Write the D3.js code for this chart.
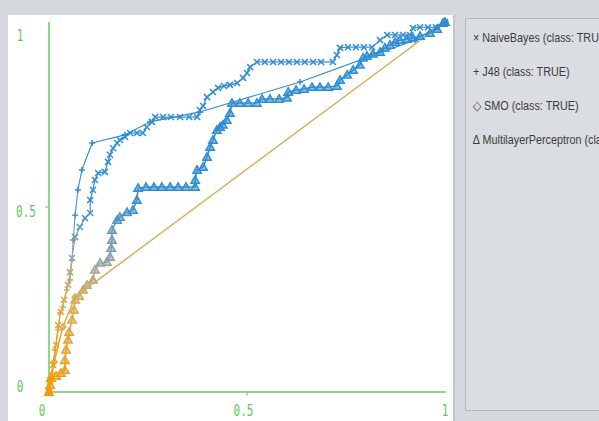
<!DOCTYPE html>
<html lang="en">
<head>
  <meta charset="UTF-8">
  <title>ROC</title>
  <script src="https://d3js.org/d3.v7.min.js"></script>
  <style>
    body { margin: 0; background: #d5d8dc; }
  </style>
</head>
<body>
  <div class="canvas"></div>
  <script>
    // [FPR, TPR] points
    const naiveBayes = [
      [0, 0], [0.003, 0.032], [0.010, 0.073], [0.018, 0.127], [0.023, 0.181], [0.030, 0.216],
      [0.038, 0.249], [0.048, 0.289], [0.053, 0.324], [0.058, 0.362], [0.066, 0.419], [0.078, 0.446],
      [0.091, 0.470], [0.104, 0.484], [0.104, 0.519], [0.111, 0.546], [0.116, 0.573], [0.124, 0.592],
      [0.141, 0.595], [0.149, 0.622], [0.154, 0.641], [0.162, 0.659], [0.172, 0.673], [0.179, 0.681],
      [0.192, 0.689], [0.205, 0.700], [0.222, 0.700], [0.237, 0.700], [0.247, 0.716], [0.260, 0.730],
      [0.268, 0.743], [0.288, 0.743], [0.308, 0.743], [0.331, 0.743], [0.354, 0.743], [0.374, 0.743],
      [0.381, 0.762], [0.389, 0.773], [0.399, 0.797], [0.414, 0.811], [0.427, 0.822], [0.442, 0.827],
      [0.457, 0.830], [0.475, 0.835], [0.490, 0.849], [0.500, 0.862], [0.508, 0.878], [0.525, 0.892],
      [0.545, 0.892], [0.566, 0.892], [0.586, 0.892], [0.606, 0.892], [0.626, 0.892], [0.646, 0.892],
      [0.667, 0.892], [0.687, 0.892], [0.717, 0.892], [0.727, 0.911], [0.735, 0.930], [0.755, 0.932],
      [0.775, 0.932], [0.795, 0.932], [0.816, 0.932], [0.836, 0.951], [0.854, 0.965], [0.874, 0.965],
      [0.894, 0.965], [0.912, 0.965], [0.919, 0.984], [0.937, 0.986], [0.957, 0.986], [0.977, 0.986],
      [1, 1]
    ];

    const j48 = [
      [0, 0], [0.008, 0.051], [0.015, 0.114], [0.023, 0.168], [0.028, 0.214], [0.035, 0.230],
      [0.045, 0.276], [0.053, 0.303], [0.058, 0.357], [0.061, 0.411], [0.066, 0.478], [0.073, 0.546],
      [0.083, 0.600], [0.109, 0.673], [0.192, 0.695], [0.255, 0.730], [0.381, 0.757], [0.634, 0.838],
      [0.924, 0.951], [1, 1]
    ];

    const smo = [
      [0, 0], [0.013, 0.081], [0.035, 0.176], [0.066, 0.257], [1, 1]
    ];

    const mlp = [
      [0, 0], [0.003, 0.019], [0.005, 0.038], [0.018, 0.043], [0.030, 0.051], [0.040, 0.059],
      [0.040, 0.086], [0.043, 0.114], [0.048, 0.141], [0.051, 0.162], [0.058, 0.195], [0.063, 0.222],
      [0.066, 0.249], [0.076, 0.259], [0.086, 0.276], [0.096, 0.289], [0.111, 0.303], [0.116, 0.330],
      [0.129, 0.349], [0.146, 0.351], [0.154, 0.365], [0.157, 0.389], [0.159, 0.411], [0.159, 0.438],
      [0.172, 0.465], [0.179, 0.473], [0.197, 0.486], [0.212, 0.492], [0.222, 0.519], [0.225, 0.551],
      [0.245, 0.554], [0.265, 0.554], [0.285, 0.554], [0.306, 0.554], [0.326, 0.554], [0.346, 0.554],
      [0.369, 0.554], [0.369, 0.573], [0.374, 0.600], [0.389, 0.608], [0.399, 0.635], [0.407, 0.662],
      [0.414, 0.681], [0.424, 0.708], [0.432, 0.716], [0.439, 0.722], [0.449, 0.735], [0.457, 0.754],
      [0.462, 0.781], [0.482, 0.781], [0.503, 0.781], [0.525, 0.781], [0.538, 0.792], [0.558, 0.792],
      [0.581, 0.792], [0.601, 0.795], [0.604, 0.811], [0.624, 0.816], [0.644, 0.819], [0.664, 0.824],
      [0.684, 0.824], [0.705, 0.824], [0.727, 0.827], [0.735, 0.843], [0.753, 0.857], [0.768, 0.870],
      [0.785, 0.884], [0.793, 0.903], [0.803, 0.908], [0.818, 0.914], [0.836, 0.919], [0.848, 0.930],
      [0.861, 0.938], [0.874, 0.946], [0.886, 0.951], [0.904, 0.954], [0.919, 0.957], [0.937, 0.962],
      [0.962, 0.970], [0.980, 0.981], [0.995, 0.997], [1, 1]
    ];

    const legendLabels = [
      '× NaiveBayes (class: TRUE)',
      '+ J48 (class: TRUE)',
      '◇ SMO (class: TRUE)',
      '∆ MultilayerPerceptron (class: TRUE)'
    ];
    const tickValues = [0, 0.5, 1];
    const tickLabels = ['0', '0.5', '1'];

    const W = 599, H = 421;
    const svg = d3.select('.canvas')
      .append('svg')
      .attr('width', W)
      .attr('height', H)
      .style('display', 'block');

    // frame
    svg.append('rect').attr('width', W).attr('height', H).attr('fill', '#d5d8dc');
    svg.append('rect').attr('x', 8).attr('y', 15).attr('width', 445).attr('height', H - 15)
      .attr('fill', '#ffffff');
    svg.append('line').attr('x1', 454).attr('x2', 454).attr('y1', 15).attr('y2', H)
      .attr('stroke', '#c3c6cb').attr('stroke-width', 2);
    svg.append('rect').attr('x', 465.5).attr('y', 18.5).attr('width', 150).attr('height', 392)
      .attr('fill', '#dadde1').attr('stroke', '#b4b8be');

    const x = d3.scaleLinear().domain([0, 1]).range([49, 445]);
    const y = d3.scaleLinear().domain([0, 1]).range([392, 22]);
    // Weka puts its labels a little off the ticks
    const xLab = d3.scaleLinear().domain([0, 1]).range([42, 445]);
    const yLab = d3.scaleLinear().domain([0, 1]).range([387, 36]);

    const axisColor = '#66cc66';
    svg.append('line').attr('x1', x(0)).attr('x2', x(0)).attr('y1', y(1)).attr('y2', y(0))
      .attr('stroke', axisColor).attr('stroke-width', 1.5);
    svg.append('line').attr('x1', x(0) + 2).attr('x2', x(1) + 1).attr('y1', y(0)).attr('y2', y(0))
      .attr('stroke', axisColor).attr('stroke-width', 1.5);
    svg.append('line').attr('x1', x(0) - 4).attr('x2', x(0)).attr('y1', y(0.5)).attr('y2', y(0.5))
      .attr('stroke', axisColor);
    svg.append('line').attr('x1', x(0.5)).attr('x2', x(0.5)).attr('y1', y(0)).attr('y2', y(0) + 4)
      .attr('stroke', axisColor);

    const labelStyle = sel => sel
      .attr('fill', '#5cc85c')
      .attr('font-family', 'DejaVu Sans Mono, monospace')
      .attr('font-size', 11)
      .attr('text-anchor', 'middle');

    tickValues.forEach((v, i) => {
      svg.append('text')
        .attr('transform', `translate(${xLab(v)}, 416) scale(1, 1.4)`)
        .call(labelStyle)
        .text(tickLabels[i]);
      svg.append('text')
        .attr('transform', `translate(${i === 1 ? 26 : 20}, ${yLab(v) + 5}) scale(1, 1.4)`)
        .call(labelStyle)
        .text(tickLabels[i]);
    });

    // colour stands in for threshold: orange at the strict end, blue at the loose end
    const color = d3.scaleLinear()
      .domain([0, 0.26, 0.36, 0.52])
      .range(['#f59a08', '#d6ac5a', '#8fa3a8', '#2f8dd6'])
      .clamp(true);

    const shapes = {
      cross: s => `M${-s},${-s}L${s},${s}M${-s},${s}L${s},${-s}`,
      plus: s => `M${-s - 0.5},0L${s + 0.5},0M0,${-s - 0.5}L0,${s + 0.5}`,
      diamond: s => `M0,${-s - 0.5}L${s + 0.5},0L0,${s + 0.5}L${-s - 0.5},0Z`,
      triangle: s => `M0,${-s - 1}L${s + 1},${s}L${-s - 1},${s}Z`
    };

    function drawCurve(points, shape, lineW, size, fillOpacity) {
      const g = svg.append('g');
      for (let i = 0; i < points.length - 1; i++) {
        const a = points[i], b = points[i + 1];
        g.append('line')
          .attr('x1', x(a[0])).attr('y1', y(a[1]))
          .attr('x2', x(b[0])).attr('y2', y(b[1]))
          .attr('stroke', color(a[1]))
          .attr('stroke-width', lineW);
      }
      g.selectAll('path')
        .data(points)
        .enter()
        .append('path')
        .attr('transform', d => `translate(${x(d[0])}, ${y(d[1])})`)
        .attr('d', shapes[shape](size))
        .attr('fill', d => color(d[1]))
        .attr('fill-opacity', fillOpacity)
        .attr('stroke', d => color(d[1]))
        .attr('stroke-width', 1.5);
    }

    drawCurve(smo, 'diamond', 1.4, 2.5, 0);
    drawCurve(mlp, 'triangle', 1.5, 3.2, 0.55);
    drawCurve(naiveBayes, 'cross', 1.2, 3, 0);
    drawCurve(j48, 'plus', 1.1, 2.5, 0);

    svg.append('g')
      .selectAll('text')
      .data(legendLabels)
      .enter()
      .append('text')
      .attr('transform', (d, i) => `translate(473, ${42 + i * 34}) scale(0.83, 1)`)
      .attr('fill', '#3c3c3c')
      .attr('font-family', 'Liberation Sans, Arial, sans-serif')
      .attr('font-size', 13)
      .text(d => d);
  </script>
</body>
</html>
